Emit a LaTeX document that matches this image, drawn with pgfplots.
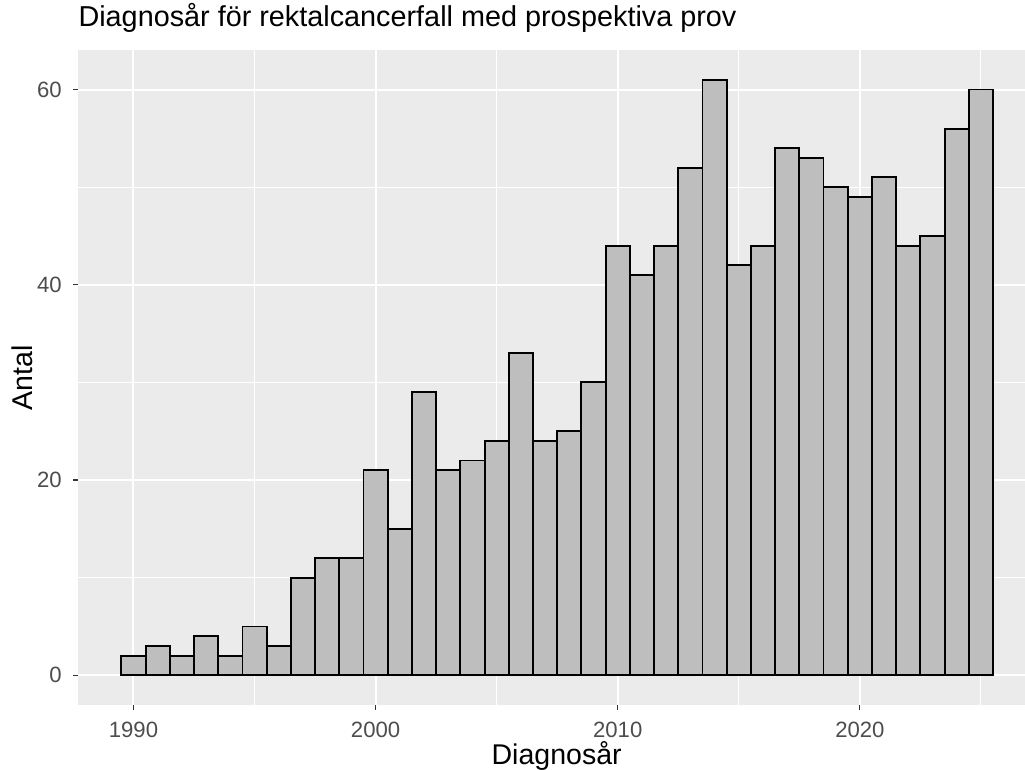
\documentclass[border=0pt]{standalone}
\usepackage{pgfplots}
\pgfplotsset{compat=1.18}
\usepackage{fontspec}
\setmainfont{Liberation Sans}
\definecolor{panelbg}{HTML}{EBEBEB}
\definecolor{barfill}{HTML}{BEBEBE}
\definecolor{ticklab}{HTML}{4D4D4D}
\definecolor{tickcol}{HTML}{333333}
\begin{document}
\begin{tikzpicture}
\begin{axis}[
  name=ax,
  scale only axis,
  width=710pt, height=491.25pt,
  xmin=1987.72, xmax=2026.82,
  ymin=-3.05, ymax=64.05,
  xtick={1990,2000,2010,2020},
  ytick={0,20,40,60},
  minor xtick={1995,2005,2015,2025},
  minor ytick={10,30,50},
  grid=both,
  major grid style={white, line width=1.5pt},
  minor grid style={white, line width=0.8pt},
  axis background/.style={fill=panelbg},
  axis line style={draw=none},
  tick align=outside,
  tick pos=left,
  major tick length=3.75pt,
  minor tick length=0pt,
  tick style={tickcol, line width=0.8pt},
  /pgf/number format/assume math mode=true,
  xticklabel style={font=\fontsize{16.6}{19}\selectfont, text=ticklab, anchor=base, inner sep=0pt, yshift=-20.6pt},
  yticklabel style={font=\fontsize{16.6}{19}\selectfont, text=ticklab, anchor=east, inner sep=0pt, xshift=-8.5pt},
  x tick label style={/pgf/number format/1000 sep={}},
  xlabel={Diagnosår},
  ylabel={Antal},
  xlabel style={font=\fontsize{21.4}{25}\selectfont, at={(axis description cs:0.5053,-0.0901)}, anchor=base, inner sep=0pt},
  ylabel style={font=\fontsize{21.4}{25}\selectfont, at={(axis description cs:-0.04785,0.5)}, anchor=base, inner sep=0pt},
  title={Diagnosår för rektalcancerfall med prospektiva prov},
  title style={font=\fontsize{21.6}{25}\selectfont, at={(axis description cs:0,1.0229)}, anchor=base west, inner sep=0pt},
]
\addplot[ybar, bar width=1, bar shift=0pt, fill=barfill, draw=black, line width=1.4pt] coordinates {
(1990,2) (1991,3) (1992,2) (1993,4) (1994,2) (1995,5) (1996,3) (1997,10) (1998,12) (1999,12)
(2000,21) (2001,15) (2002,29) (2003,21) (2004,22) (2005,24) (2006,33) (2007,24) (2008,25) (2009,30)
(2010,44) (2011,41) (2012,44) (2013,52) (2014,61) (2015,42) (2016,44) (2017,54) (2018,53) (2019,50)
(2020,49) (2021,51) (2022,44) (2023,45) (2024,56) (2025,60)
};
\end{axis}
\pgfresetboundingbox
\path[use as bounding box] ([shift={(-58.7pt,-48pt)}]ax.south west) rectangle ([shift={(0pt,37.5pt)}]ax.north east);
\end{tikzpicture}
\end{document}
